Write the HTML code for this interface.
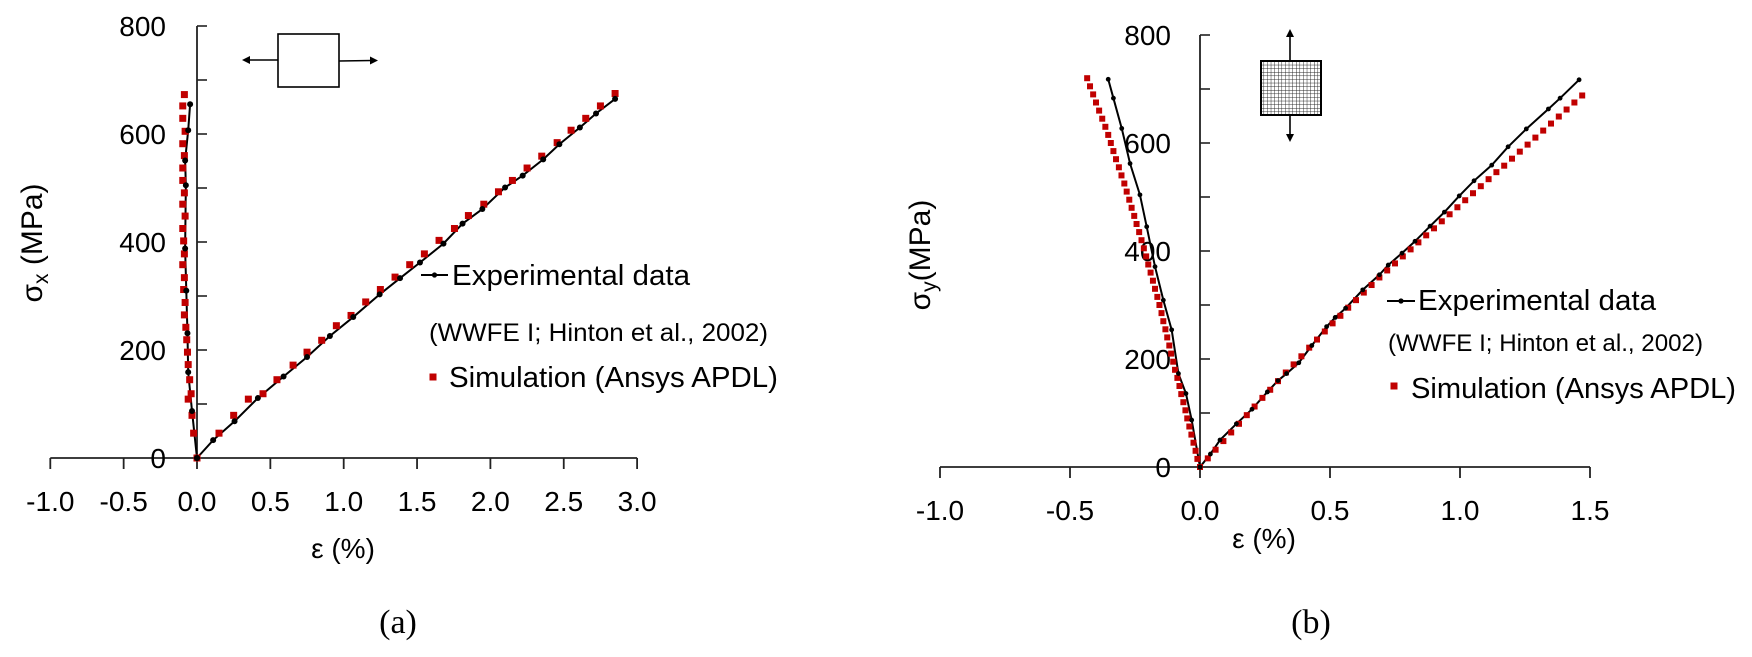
<!DOCTYPE html>
<html><head><meta charset="utf-8">
<style>
html,body{margin:0;padding:0;background:#fff;}
svg{display:block;font-family:"Liberation Sans",sans-serif;}
</style></head>
<body>
<svg id="fig" width="1752" height="657" viewBox="0 0 1752 657" xmlns="http://www.w3.org/2000/svg">
<defs>
<pattern id="grid" width="3.6" height="3.6" patternUnits="userSpaceOnUse">
<rect width="3.6" height="3.6" fill="#fff"/>
<path d="M0 0H3.6M0 0V3.6" stroke="#222" stroke-width="0.9"/>
</pattern>
</defs>
<g id="chartA"></g>
<g id="chartB"></g>

<g stroke="#000" stroke-width="1.6" fill="none">
<rect x="278" y="34" width="61" height="53" fill="#fff"/>
<line x1="278" y1="60" x2="248" y2="60"/>
<line x1="339" y1="61" x2="372" y2="60.5"/>
<path d="M242 60 L250 56 L250 64Z" fill="#000" stroke="none"/>
<path d="M378 60.5 L370 56.5 L370 64.5Z" fill="#000" stroke="none"/>
</g>
<g stroke="#000" stroke-width="1.6">
<line x1="1290" y1="34" x2="1290" y2="61"/>
<line x1="1290" y1="115" x2="1290" y2="136"/>
<path d="M1290 29 L1286 37 L1294 37Z" fill="#000" stroke="none"/>
<path d="M1290 142 L1286 134 L1294 134Z" fill="#000" stroke="none"/>
<rect x="1261" y="61" width="60" height="54" fill="url(#grid)" stroke-width="2"/>
</g>

<text x="398" y="633" text-anchor="middle" font-family="Liberation Serif, serif" font-size="34">(a)</text>
<text x="1311" y="633" text-anchor="middle" font-family="Liberation Serif, serif" font-size="34">(b)</text>
</svg>

<script>
const aXTicks = [-1.0,-0.5,0.0,0.5,1.0,1.5,2.0,2.5,3.0];
const aYTicks = [0,200,400,600,800];
const aExpLeftX = [0,-0.034,-0.06,-0.065,-0.073,-0.081,-0.076,-0.081,-0.06,-0.047];
const aExpLeftY = [0,87,159,231,310,388,505,551,607,655];
const aExpRightX = [0,0.11,0.256,0.415,0.59,0.75,0.906,1.065,1.245,1.384,1.52,1.68,1.81,1.945,2.10,2.22,2.36,2.47,2.61,2.72,2.85];
const aExpRightY = [0,33,68,111,151,187,226,261,303,333,362,397,434,461,501,523,553,581,612,638,665];
const aSimLeftX = [0,-0.023,-0.034,-0.04,-0.06,-0.05,-0.06,-0.065,-0.07,-0.076,-0.086,-0.081,-0.091,-0.086,-0.097,-0.086,-0.091,-0.097,-0.081,-0.097,-0.086,-0.097,-0.097,-0.086,-0.097,-0.081,-0.097,-0.097,-0.086];
const aSimLeftY = [0,46,79,119,109,145,173,196,219,242,265,288,312,334,358,378,402,425,448,470,491,514,537,560,582,605,629,652,673];
const aSimRightX = [0,0.15,0.25,0.35,0.45,0.545,0.655,0.75,0.85,0.95,1.05,1.15,1.25,1.35,1.45,1.55,1.65,1.755,1.85,1.955,2.055,2.15,2.25,2.35,2.455,2.55,2.65,2.75,2.85];
const aSimRightY = [0,46,79,109,119,145,172,196,218,245,264,289,312,335,358,378,403,425,449,470,493,514,537,559,584,607,629,652,675];

const bXTicks = [-1.0,-0.5,0.0,0.5,1.0,1.5];
const bYTicks = [0,200,400,600,800];
const bExpLeftX = [0,-0.032,-0.054,-0.083,-0.109,-0.141,-0.173,-0.205,-0.231,-0.269,-0.301,-0.333,-0.353];
const bExpLeftY = [0,87,136,173,254,309,371,445,504,562,627,683,718];
const bExpRightX = [0,0.04,0.077,0.14,0.2,0.259,0.3,0.333,0.38,0.43,0.487,0.52,0.56,0.626,0.69,0.724,0.777,0.827,0.885,0.94,0.997,1.054,1.122,1.185,1.255,1.34,1.385,1.458];
const bExpRightY = [0,24,50,80,107,139,160,173,193,225,260,277,294,328,356,374,396,418,446,472,502,530,559,593,626,663,683,717];
const bSimLeftX = [0,-0.010,-0.017,-0.025,-0.033,-0.041,-0.049,-0.056,-0.064,-0.072,-0.079,-0.087,-0.096,-0.103,-0.111,-0.118,-0.126,-0.133,-0.141,-0.148,-0.156,-0.164,-0.173,-0.181,-0.190,-0.199,-0.207,-0.216,-0.225,-0.234,-0.244,-0.253,-0.263,-0.272,-0.282,-0.291,-0.302,-0.312,-0.323,-0.333,-0.343,-0.353,-0.364,-0.376,-0.388,-0.400,-0.411,-0.423,-0.434];
const bSimLeftY = [0,15,30,45,60,75,90,105,120,135,150,165,180,195,210,225,240,255,270,285,300,315,330,345,360,375,390,405,420,435,450,465,480,495,510,525,540,555,570,585,600,615,630,645,660,675,690,705,720];
const bSimRightX = [0,0.03,0.06,0.09,0.12,0.15,0.18,0.21,0.24,0.27,0.30,0.33,0.36,0.39,0.42,0.45,0.48,0.51,0.54,0.57,0.60,0.63,0.66,0.69,0.72,0.75,0.78,0.81,0.84,0.87,0.90,0.93,0.96,0.99,1.02,1.05,1.08,1.11,1.14,1.17,1.20,1.23,1.26,1.29,1.32,1.35,1.38,1.41,1.44,1.47];
const bSimRightY = [0,16,32,48,64,80,96,112,128,143,159,175,190,205,221,236,251,266,280,295,309,323,337,351,364,377,390,403,416,429,442,455,468,481,494,507,520,533,546,558,571,584,597,610,623,636,649,662,675,688];

const NS = "http://www.w3.org/2000/svg";
function mk(parent, tag, attrs){
  const e = document.createElementNS(NS, tag);
  for (const k in attrs) e.setAttribute(k, attrs[k]);
  parent.appendChild(e);
  return e;
}

function drawChart(g, cfg){
  const sx = v => cfg.x0 + v * cfg.kx;
  const sy = v => cfg.y0 - v * cfg.ky;
  const xMin = cfg.xTicks[0], xMax = cfg.xTicks[cfg.xTicks.length-1];
  const xa = mk(g,'line',{x1:sx(xMin),y1:cfg.y0,x2:sx(xMax),y2:cfg.y0,stroke:'#222','stroke-width':1.8});
  
  
  const ya = mk(g,'line',{x1:cfg.x0,y1:sy(800),x2:cfg.x0,y2:cfg.y0,stroke:'#222','stroke-width':1.8});
  
  
  cfg.xTicks.forEach(t=>{
    const tk = mk(g,'line',{x1:sx(t),y1:cfg.y0,x2:sx(t),y2:cfg.y0+11,stroke:'#222','stroke-width':1.8});
    
    
    const lb = mk(g,'text',{x:sx(t),y:cfg.xLabelY,'text-anchor':'middle','font-size':cfg.tickFont});
    lb.textContent = t.toFixed(1);
    
    
  });
  for (let v=100; v<=800; v+=100){
    const tk = mk(g,'line',{x1:cfg.x0,y1:sy(v),x2:cfg.x0+10,y2:sy(v),stroke:'#222','stroke-width':1.6});
    
    
  }
  cfg.yTicks.forEach(t=>{
    const lb = mk(g,'text',{x:cfg.yLabelX,y:sy(t)+10,'text-anchor':'end','font-size':cfg.tickFont});
    lb.textContent = String(t);
    
    
  });
  cfg.exp.forEach(([X,Y])=>{
    const pts = X.map((x,i)=>sx(x)+','+sy(Y[i])).join(' ');
    const pl = mk(g,'polyline',{points:pts,fill:'none',stroke:'#000','stroke-width':2});
    
    
  });
  cfg.sim.forEach(([X,Y])=>{
    X.forEach((x,i)=>{
      const r = mk(g,'rect',{x:sx(x)-cfg.sq/2,y:sy(Y[i])-cfg.sq/2,width:cfg.sq,height:cfg.sq,fill:'#c00000'});
      
      
    });
  });
  cfg.exp.forEach(([X,Y])=>{
    X.forEach((x,i)=>{
      const c = mk(g,'circle',{cx:sx(x),cy:sy(Y[i]),r:cfg.dot,fill:'#000'});
      
      
    });
  });
  const xt = mk(g,'text',{x:cfg.xTitleX,y:cfg.xTitleY,'text-anchor':'middle','font-size':cfg.titleFont});
  xt.textContent = 'ε (%)';
  
  
  const yt = mk(g,'text',{x:0,y:0,'text-anchor':'middle','font-size':cfg.yTitleFont,transform:`translate(${cfg.yTitleX},${cfg.yTitleY}) rotate(-90)`});
  yt.innerHTML = 'σ<tspan font-size="'+(cfg.yTitleFont*0.7)+'" dy="6">'+cfg.sub+'</tspan><tspan dy="-6">'+cfg.yTitleGap+'(MPa)</tspan>';
  
  
  const L = cfg.legend;
  const lg = mk(g,'g',{});
  
  
  mk(lg,'line',{x1:L.lx1,y1:L.ly,x2:L.lx2,y2:L.ly,stroke:'#000','stroke-width':2});
  mk(lg,'circle',{cx:(L.lx1+L.lx2)/2,cy:L.ly,r:2.6,fill:'#000'});
  const t1 = mk(lg,'text',{x:L.t1x,y:L.t1y,'font-size':L.f1,textLength:L.t1w,lengthAdjust:'spacingAndGlyphs'});
  t1.textContent='Experimental data';
  
  
  const t2 = mk(lg,'text',{x:L.t2x,y:L.t2y,'font-size':L.f2,textLength:L.t2w,lengthAdjust:'spacingAndGlyphs'});
  t2.textContent='(WWFE I; Hinton et al., 2002)';
  
  
  mk(lg,'rect',{x:L.sqx-3.5,y:L.sqy-3.5,width:7,height:7,fill:'#c00000'});
  const t3 = mk(lg,'text',{x:L.t3x,y:L.t3y,'font-size':L.f1,textLength:L.t3w,lengthAdjust:'spacingAndGlyphs'});
  t3.textContent='Simulation (Ansys APDL)';
  
  
}

drawChart(document.getElementById('chartA'),{
  x0:197,kx:146.7,y0:458,ky:0.54,
  xTicks:aXTicks,yTicks:aYTicks,xLabelY:511,yLabelX:166,tickFont:28,titleFont:28,yTitleFont:30,
  exp:[[aExpLeftX,aExpLeftY],[aExpRightX,aExpRightY]],
  sim:[[aSimLeftX,aSimLeftY],[aSimRightX,aSimRightY]],
  sq:7,dot:3,
  xTitleX:343,xTitleY:558,yTitleX:42,yTitleY:243,sub:'x',yTitleGap:' ',
  legend:{lx1:421,lx2:448,ly:275,t1x:452,t1y:285,t1w:238,f1:29,
          t2x:429,t2y:341,t2w:339,f2:25,sqx:433,sqy:377,t3x:449,t3y:387,t3w:329}
});
drawChart(document.getElementById('chartB'),{
  x0:1200,kx:260,y0:467,ky:0.54,
  xTicks:bXTicks,yTicks:bYTicks,xLabelY:520,yLabelX:1171,tickFont:28,titleFont:28,yTitleFont:30,
  exp:[[bExpLeftX,bExpLeftY],[bExpRightX,bExpRightY]],
  sim:[[bSimLeftX,bSimLeftY],[bSimRightX,bSimRightY]],
  sq:6,dot:2.4,
  xTitleX:1264,xTitleY:548,yTitleX:930,yTitleY:255,sub:'y',yTitleGap:'',
  legend:{lx1:1387,lx2:1415,ly:301,t1x:1418,t1y:310,t1w:238,f1:29,
          t2x:1388,t2y:351,t2w:315,f2:24,sqx:1394,sqy:386,t3x:1411,t3y:398,t3w:325}
});
</script>
</body></html>
